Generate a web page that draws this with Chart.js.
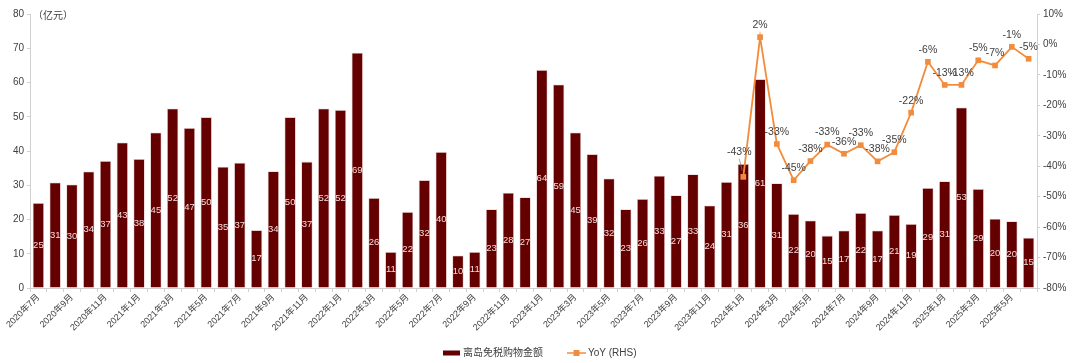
<!DOCTYPE html>
<html>
<head>
<meta charset="utf-8">
<script src="https://cdn.jsdelivr.net/npm/chart.js@4"></script>
<style>
  html, body { margin: 0; padding: 0; background: #fff; }
  #wrap { width: 1080px; height: 363px; }
</style>
</head>
<body>
<div id="wrap"><canvas id="chartSales"></canvas></div>
<script>
const months = [
    "2020年7月", "2020年8月", "2020年9月", "2020年10月", "2020年11月", "2020年12月",
    "2021年1月", "2021年2月", "2021年3月", "2021年4月", "2021年5月", "2021年6月",
    "2021年7月", "2021年8月", "2021年9月", "2021年10月", "2021年11月", "2021年12月",
    "2022年1月", "2022年2月", "2022年3月", "2022年4月", "2022年5月", "2022年6月",
    "2022年7月", "2022年8月", "2022年9月", "2022年10月", "2022年11月", "2022年12月",
    "2023年1月", "2023年2月", "2023年3月", "2023年4月", "2023年5月", "2023年6月",
    "2023年7月", "2023年8月", "2023年9月", "2023年10月", "2023年11月", "2023年12月",
    "2024年1月", "2024年2月", "2024年3月", "2024年4月", "2024年5月", "2024年6月",
    "2024年7月", "2024年8月", "2024年9月", "2024年10月", "2024年11月", "2024年12月",
    "2025年1月", "2025年2月", "2025年3月", "2025年4月", "2025年5月", "2025年6月"
]
// 离岛免税购物金额（亿元）
const salesValues = [
    24.8, 30.8, 30.2, 34.0, 37.1, 42.5, 37.7, 45.4, 52.4, 46.7, 49.9, 35.4,
    36.6, 16.9, 34.1, 49.9, 36.9, 52.4, 52.0, 68.7, 26.3, 10.5, 22.2, 31.5,
    39.7, 9.5, 10.5, 23.0, 27.8, 26.5, 63.7, 59.4, 45.4, 39.1, 32.0, 23.0,
    26.0, 32.8, 27.1, 33.2, 24.1, 31.0, 36.2, 61.0, 30.6, 21.6, 19.7, 15.3,
    16.8, 21.9, 16.8, 21.3, 18.7, 29.2, 31.2, 52.7, 28.9, 20.2, 19.5, 14.7
]
// YoY (%), starts 2024年1月
const yoyValues = [
    null, null, null, null, null, null, null, null, null, null, null, null,
    null, null, null, null, null, null, null, null, null, null, null, null,
    null, null, null, null, null, null, null, null, null, null, null, null,
    null, null, null, null, null, null,
    -43.5, 2.4, -32.7, -44.6, -38.3, -32.9, -35.9, -33.1, -38.4, -35.4, -22.4, -5.7,
    -13.3, -13.3, -5.2, -6.9, -0.8, -4.7
]
const leftTicks = [0, 10, 20, 30, 40, 50, 60, 70, 80]
const rightTicks = [-80, -70, -60, -50, -40, -30, -20, -10, 0, 10]

const FONT = 'Arial, "Liberation Sans", "Noto Sans CJK SC", sans-serif'
const BAR_COLOR = '#640000'
const LINE_COLOR = '#f28c3c'
const TEXT_COLOR = '#404040'

renderSalesChart();

function renderSalesChart() {
    const valueLabels = {
        id: 'valueLabels',
        afterDatasetsDraw(chart) {
            const ctx = chart.ctx;
            ctx.save();
            ctx.textAlign = 'center';
            ctx.textBaseline = 'middle';
            // bar labels, centred in the bar
            ctx.font = '9.5px ' + FONT;
            ctx.fillStyle = '#f2dede';
            chart.getDatasetMeta(0).data.forEach((bar, i) => {
                const midY = (bar.y + bar.base) / 2;
                ctx.fillText(Math.round(salesValues[i]), bar.x, midY);
            });
            // line labels above points
            ctx.font = '10.5px ' + FONT;
            ctx.fillStyle = TEXT_COLOR;
            let first = true;
            chart.getDatasetMeta(1).data.forEach((pt, i) => {
                if (yoyValues[i] === null) return;
                const txt = Math.round(yoyValues[i]) + '%';
                if (first) {
                    // first label sits higher with a small leader line
                    ctx.strokeStyle = '#808080';
                    ctx.lineWidth = 0.7;
                    ctx.beginPath();
                    ctx.moveTo(pt.x - 1, pt.y - 6);
                    ctx.lineTo(pt.x - 4, pt.y - 18);
                    ctx.stroke();
                    ctx.fillText(txt, pt.x - 4, pt.y - 25);
                    first = false;
                } else {
                    ctx.fillText(txt, pt.x, pt.y - 12);
                }
            });
            ctx.restore();
        },
        afterDraw(chart) {
            const ctx = chart.ctx;
            const area = chart.chartArea;
            ctx.save();
            // unit label
            ctx.font = '10px ' + FONT;
            ctx.fillStyle = TEXT_COLOR;
            ctx.textBaseline = 'middle';
            ctx.textAlign = 'left';
            ctx.fillText('（亿元）', area.left + 3, area.top + 2);
            // legend
            const ly = 353;
            ctx.fillStyle = BAR_COLOR;
            ctx.fillRect(443, ly - 2.5, 17, 5);
            ctx.fillStyle = TEXT_COLOR;
            ctx.fillText('离岛免税购物金额', 463, ly);
            ctx.strokeStyle = LINE_COLOR;
            ctx.lineWidth = 1.5;
            ctx.beginPath();
            ctx.moveTo(567, ly);
            ctx.lineTo(586, ly);
            ctx.stroke();
            ctx.fillStyle = LINE_COLOR;
            ctx.fillRect(573.5, ly - 3, 6, 6);
            ctx.fillStyle = TEXT_COLOR;
            ctx.fillText('YoY (RHS)', 588, ly);
            ctx.restore();
        }
    };

    const data = {
        labels: months,
        datasets: [{
            type: 'bar',
            label: '离岛免税购物金额',
            data: salesValues,
            backgroundColor: BAR_COLOR,
            borderColor: '#e8cccc',
            borderWidth: 0.8,
            barPercentage: 0.68,
            categoryPercentage: 1,
            yAxisID: 'y',
            order: 2
        }, {
            type: 'line',
            label: 'YoY (RHS)',
            data: yoyValues,
            borderColor: LINE_COLOR,
            backgroundColor: LINE_COLOR,
            borderWidth: 1.8,
            pointStyle: 'rect',
            pointRadius: 4,
            pointBorderWidth: 0,
            tension: 0,
            spanGaps: false,
            yAxisID: 'y1',
            order: 1
        }]
    };

    const config = {
        type: 'bar',
        data: data,
        options: {
            responsive: true,
            maintainAspectRatio: false,
            animation: false,
            layout: {
                padding: { top: 14, left: 0, right: 0, bottom: 0 }
            },
            scales: {
                x: {
                    grid: {
                        display: true,
                        drawOnChartArea: false,
                        color: '#d0d0d0',
                        tickLength: 4
                    },
                    border: { color: '#d0d0d0' },
                    ticks: {
                        autoSkip: false,
                        minRotation: 45,
                        maxRotation: 45,
                        padding: 0,
                        color: TEXT_COLOR,
                        font: { family: FONT, size: 9 },
                        callback: function (val, idx) {
                            return idx % 2 === 0 ? months[idx] : '';
                        }
                    },
                    afterFit: function (scale) { scale.height = 75; }
                },
                y: {
                    position: 'left',
                    min: 0,
                    max: 80,
                    afterBuildTicks: function (scale) {
                        scale.ticks = leftTicks.map(v => ({ value: v }));
                    },
                    grid: {
                        drawOnChartArea: false,
                        color: '#d0d0d0',
                        tickLength: 3
                    },
                    border: { color: '#d0d0d0' },
                    ticks: {
                        color: TEXT_COLOR,
                        padding: 3,
                        font: { family: FONT, size: 10 }
                    },
                    afterFit: function (scale) { scale.width = 30; }
                },
                y1: {
                    position: 'right',
                    min: -80,
                    max: 10,
                    afterBuildTicks: function (scale) {
                        scale.ticks = rightTicks.map(v => ({ value: v }));
                    },
                    grid: {
                        drawOnChartArea: false,
                        color: '#d0d0d0',
                        tickLength: 3
                    },
                    border: { color: '#d0d0d0' },
                    ticks: {
                        color: TEXT_COLOR,
                        padding: 3,
                        font: { family: FONT, size: 10 },
                        callback: v => v + '%'
                    },
                    afterFit: function (scale) { scale.width = 43; }
                }
            },
            plugins: {
                legend: { display: false },
                tooltip: { enabled: false }
            }
        },
        plugins: [valueLabels]
    };

    var myChart = new Chart(
        document.getElementById('chartSales'),
        config
    );
}
</script>
</body>
</html>
